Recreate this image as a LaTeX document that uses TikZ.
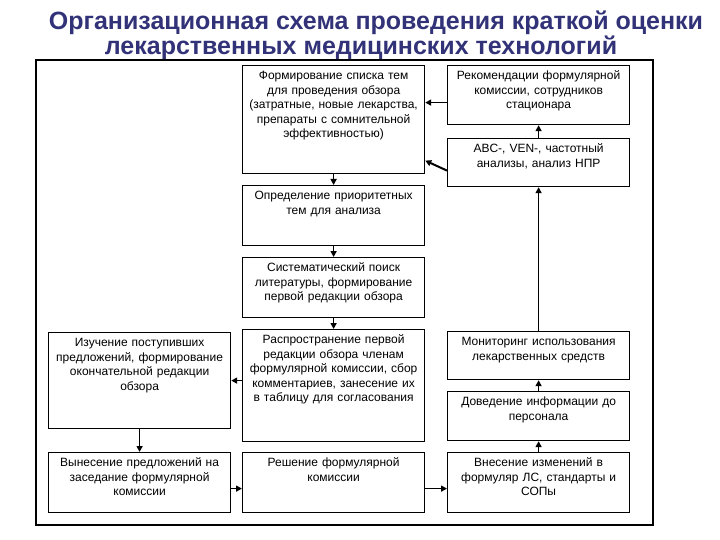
\documentclass[tikz,border=0pt]{standalone}
\usepackage{fontspec}
\setmainfont{Liberation Sans}
\usetikzlibrary{arrows.meta}
\definecolor{titleblue}{RGB}{50,50,120}

\tikzset{
  box/.style={draw, line width=1.2pt, anchor=north west, inner xsep=4pt, inner ysep=4pt,
    text width=174pt, align=center, font=\fontsize{12}{14.5}\selectfont,
    text height=10pt, text depth=#1},
  arr/.style={line width=1.5pt, -{Triangle[length=6pt,width=6pt]}},
  headline/.style={anchor=base, text=titleblue, font=\fontsize{25}{28}\selectfont\bfseries}
}

\begin{document}
\begin{tikzpicture}[x=1pt,y=-1pt]
	\useasboundingbox (0,0) rectangle (720,540);

	\node[headline] (title1) at (376,30) {Организационная схема проведения краткой оценки};
	\node[headline] (title2) at (361,55) {лекарственных медицинских технологий};

	\draw[line width=1.2pt] (36,60) rectangle (653,525);

	% middle column
	\node[box=90pt] (form) at (242,65) {Формирование списка тем\\для проведения обзора\\(затратные, новые лекарства,\\препараты с сомнительной\\эффективностью)};
	\node[box=42pt] (prio) at (242,185) {Определение приоритетных\\тем для анализа};
	\node[box=42pt] (search) at (242,257) {Систематический поиск\\литературы, формирование\\первой редакции обзора};
	\node[box=94pt] (dist) at (242,329) {Распространение первой\\редакции обзора членам\\формулярной комиссии, сбор\\комментариев, занесение их\\в таблицу для согласования};
	\node[box=42pt] (dec) at (242,452) {Решение формулярной\\комиссии};

	% left column
	\node[box=78pt] (study) at (48,332) {Изучение поступивших\\предложений, формирование\\окончательной редакции\\обзора};
	\node[box=42pt] (put) at (48,452) {Вынесение предложений на\\заседание формулярной\\комиссии};

	% right column
	\node[box=41pt] (rec) at (447,65) {Рекомендации формулярной\\комиссии, сотрудников\\стационара};
	\node[box=30pt] (abc) at (447,138) {ABC-, VEN-, частотный\\анализы, анализ НПР};
	\node[box=30pt] (mon) at (447,331) {Мониторинг использования\\лекарственных средств};
	\node[box=31pt] (inform) at (447,391) {Доведение информации до\\персонала};
	\node[box=42pt] (chg) at (447,452) {Внесение изменений в\\формуляр ЛС, стандарты и\\СОПы};

	\draw[arr] ([yshift=-7.5pt]rec.west) -- ([yshift=-7.5pt]rec.west -| form.east);
	\draw[arr, line width=2pt] ([yshift=-8pt]abc.west) -- ([yshift=-41pt]form.east);
	\draw[arr] (form.south) -- (prio.north);
	\draw[arr] (prio.south) -- (search.north);
	\draw[arr] (search.south) -- (dist.north);
	\draw[arr] (study.east -| dist.west) -- (study.east);
	\draw[arr] (study.south) -- (put.north);
	\draw[arr] ([yshift=-6pt]put.east) -- ([yshift=-6pt]put.east -| dec.west);
	\draw[arr] ([yshift=-6pt]dec.east) -- ([yshift=-6pt]dec.east -| chg.west);
	\draw[arr] (chg.north) -- (inform.south);
	\draw[arr] (inform.north) -- (mon.south);
	\draw[arr] (mon.north) -- (abc.south);
	\draw[arr] (abc.north) -- (rec.south);

\end{tikzpicture}
\end{document}
